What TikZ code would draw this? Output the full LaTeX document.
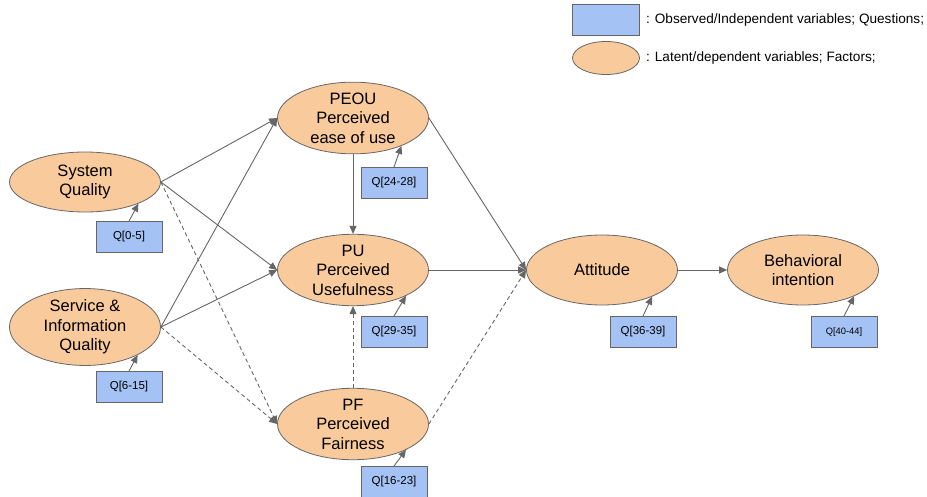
\documentclass[tikz,border=0pt]{standalone}
\usepackage{fontspec}
\setmainfont{Liberation Sans}
\usetikzlibrary{shapes.geometric,arrows.meta,positioning}
\definecolor{factorfill}{HTML}{F9CB9C}
\definecolor{questionfill}{HTML}{A4C2F4}
\definecolor{linegray}{HTML}{666666}
\begin{document}
\begin{tikzpicture}[x=1pt,y=-1pt,
    factor/.style={ellipse,draw=linegray,fill=factorfill,line width=.8pt,minimum width=151pt,minimum height=70pt,inner sep=0pt,align=center,font=\fontsize{16.5}{19.5}\selectfont},
    qbox/.style={rectangle,draw=linegray,fill=questionfill,line width=.8pt,minimum width=66pt,minimum height=31pt,inner sep=0pt,font=\fontsize{11.5}{13}\selectfont},
    legendtext/.style={inner sep=0pt,font=\fontsize{13.6}{16}\selectfont},
    link/.style={draw=linegray,line width=.9pt,-{Triangle[length=8pt,width=7pt]}},
    maybe/.style={link,dash pattern=on 4pt off 3pt}]
    \useasboundingbox (0,0) rectangle (927,497);
    % legend
    \node[qbox,minimum width=67pt] (legq) at (606,20) {};
    \node[factor,minimum width=67pt,minimum height=33pt] (legf) at (606,58) {};
    \node[legendtext,right=6pt of legq] (legqtext) {: Observed/Independent variables; Questions;};
    \node[legendtext,right=6pt of legf] (legftext) {: Latent/dependent variables; Factors;};
    % factors
    \node[factor,minimum height=60pt] (sq) at (85,182) {System\\Quality};
    \node[factor] (siq) at (85,327) {Service \&\\Information\\Quality};
    \node[factor] (peou) at (353,118) {PEOU\\Perceived\\ease of use};
    \node[factor] (pu) at (353,270) {PU\\Perceived\\Usefulness};
    \node[factor] (pf) at (353,424) {PF\\Perceived\\Fairness};
    \node[factor] (att) at (602,270) {Attitude};
    \node[factor] (bi) at (803,270) {Behavioral\\intention};
    % questions
    \node[qbox] (q05) at (129,237) {Q[0-5]};
    \node[qbox] (q615) at (129,387) {Q[6-15]};
    \node[qbox] (q2428) at (394,183) {Q[24-28]};
    \node[qbox] (q2935) at (394,332) {Q[29-35]};
    \node[qbox] (q1623) at (394,482) {Q[16-23]};
    \node[qbox] (q3639) at (643,332) {Q[36-39]};
    \node[qbox,font=\fontsize{9.3}{11}\selectfont] (q4044) at (844,332) {Q[40-44]};
    % paths
    \draw[link] (sq.east) -- (peou.west);
    \draw[link] (siq.east) -- (peou.west);
    \draw[link] (sq.east) -- (pu.west);
    \draw[link] (siq.east) -- (pu.west);
    \draw[maybe] (sq.east) -- (pf.west);
    \draw[maybe] (siq.east) -- (pf.west);
    \draw[link] (peou.south) -- (pu.north);
    \draw[maybe] (pf.north) -- (pu.south);
    \draw[link] (peou.east) -- (att.west);
    \draw[link] (pu.east) -- (att.west);
    \draw[maybe] (pf.east) -- (att.west);
    \draw[link] (att.east) -- (bi.west);
    % measurement
    \draw[link] (q05.north) -- (sq.-22);
    \draw[link] (q615.north) -- (siq.-28);
    \draw[link] (q2428.north) -- (peou.-30);
    \draw[link] (q2935.north) -- (pu.-26);
    \draw[link] (q1623.north) -- (pf.-26);
    \draw[link] (q3639.north) -- (att.-28);
    \draw[link] (q4044.north) -- (bi.-27);
\end{tikzpicture}
\end{document}
